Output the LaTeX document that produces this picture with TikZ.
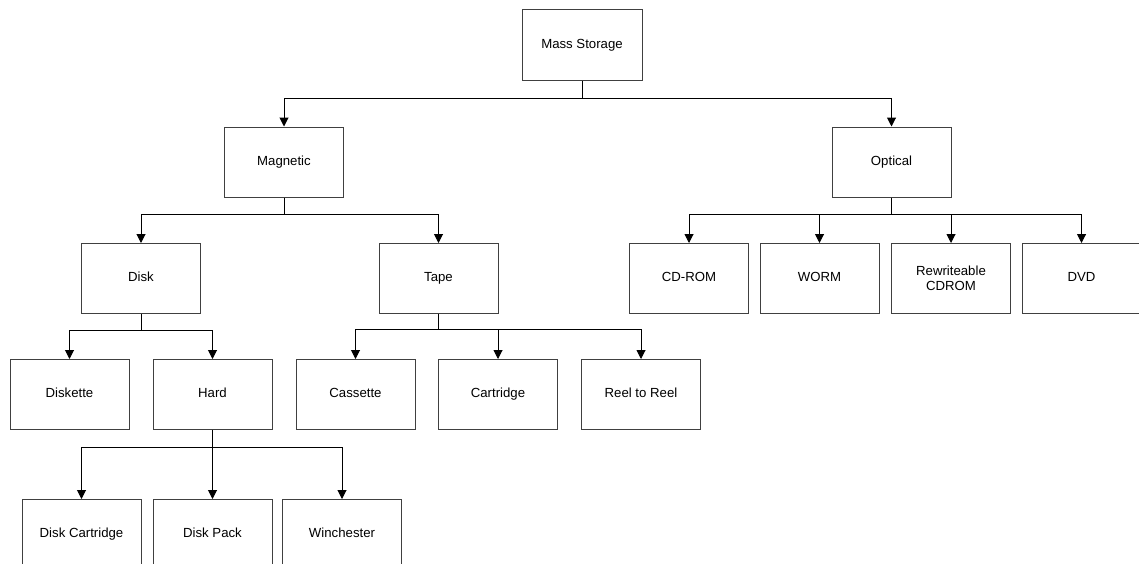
\documentclass[tikz,border=0pt]{standalone}
\usepackage{fontspec}
\setmainfont{Liberation Sans}
\usetikzlibrary{arrows.meta}
\begin{document}
\begin{tikzpicture}[x=1pt,y=-1pt,
  box/.style={draw=black!75, line width=1pt, fill=white, rectangle, minimum width=119pt, minimum height=70pt, inner sep=0pt, align=center, text height=9.5pt, text depth=2.8pt, font=\fontsize{13.2}{15}\selectfont},
  twoline/.style={text height=, text depth=},
  conn/.style={draw=black, line width=1pt},
  arr/.style={conn, -{Triangle[length=9pt,width=9pt]}}]
\clip (0,0) rectangle (1139,563);
\fill[white] (0,0) rectangle (1139,563);
% nodes
\node[box, minimum width=120pt, minimum height=71pt] (ms) at (582,45) {Mass Storage};
\node[box] (mag) at (284,162) {Magnetic};
\node[box] (opt) at (891.5,162) {Optical};
\node[box] (disk) at (141,278.5) {Disk};
\node[box] (tape) at (438.5,278.5) {Tape};
\node[box] (cd) at (689,278.5) {CD-ROM};
\node[box] (worm) at (819.5,278.5) {WORM};
\node[box, twoline] (rw) at (951,278.5) {Rewriteable\\CDROM};
\node[box] (dvd) at (1081.5,278.5) {DVD};
\node[box] (dkt) at (69.5,394.5) {Diskette};
\node[box] (hard) at (212.5,394.5) {Hard};
\node[box] (cass) at (355.5,394.5) {Cassette};
\node[box] (cart) at (498,394.5) {Cartridge};
\node[box] (reel) at (641,394.5) {Reel to Reel};
\node[box] (dcart) at (81.5,534.5) {Disk Cartridge};
\node[box] (dpack) at (212.5,534.5) {Disk Pack};
\node[box] (winch) at (342,534.5) {Winchester};
% junctions
\coordinate (jms) at (582,98);
\coordinate (jmag) at (284,214);
\coordinate (jopt) at (891.5,214);
\coordinate (jdisk) at (141,330);
\coordinate (jtape) at (438.5,329);
\coordinate (jhard) at (212.5,447);
% connectors
\draw[conn] (ms.south) -- (jms);
\draw[arr] (jms) -| (mag.north);
\draw[arr] (jms) -| (opt.north);
\draw[conn] (mag.south) -- (jmag);
\draw[arr] (jmag) -| (disk.north);
\draw[arr] (jmag) -| (tape.north);
\draw[conn] (opt.south) -- (jopt);
\draw[arr] (jopt) -| (cd.north);
\draw[arr] (jopt) -| (worm.north);
\draw[arr] (jopt) -| (rw.north);
\draw[arr] (jopt) -| (dvd.north);
\draw[conn] (disk.south) -- (jdisk);
\draw[arr] (jdisk) -| (dkt.north);
\draw[arr] (jdisk) -| (hard.north);
\draw[conn] (tape.south) -- (jtape);
\draw[arr] (jtape) -| (cass.north);
\draw[arr] (jtape) -| (cart.north);
\draw[arr] (jtape) -| (reel.north);
\draw[conn] (hard.south) -- (jhard);
\draw[arr] (jhard) -| (dcart.north);
\draw[arr] (jhard) -- (dpack.north);
\draw[arr] (jhard) -| (winch.north);
\end{tikzpicture}
\end{document}
